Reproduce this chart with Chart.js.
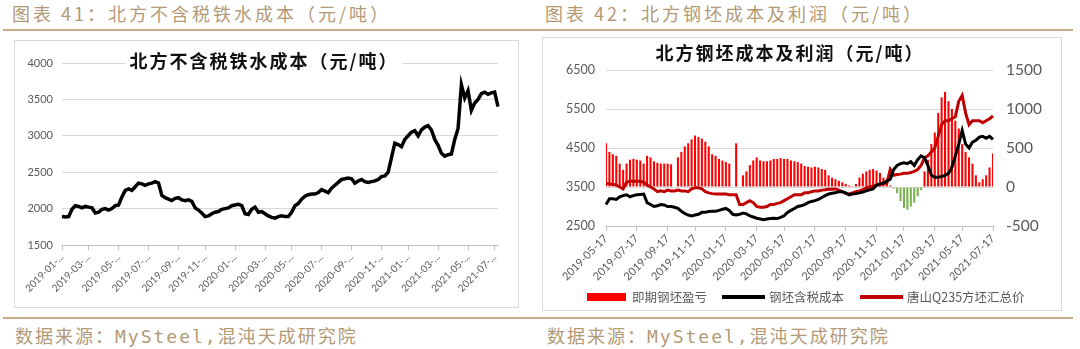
<!DOCTYPE html>
<html lang="zh-CN">
<head>
<meta charset="utf-8">
<script src="https://cdn.jsdelivr.net/npm/chart.js"></script>
<style>
  body { margin: 0; width: 1080px; height: 349px; background: #fff; position: relative; overflow: hidden;
         font-family: "Noto Sans CJK SC", sans-serif; }
  .hdr { position: absolute; top: 0; font-size: 18px; letter-spacing: 3px; color: #b39a76; line-height: 26px; white-space: nowrap; }
  .rule { position: absolute; left: 3px; width: 1070px; border-top: 2px solid #c9ad85; }
  .box { position: absolute; box-sizing: border-box; border: 1px solid #d9d9d9; background: #fff; }
  .box canvas { position: absolute; left: 0; top: 0; }
  .title { position: absolute; background: #fff; font-weight: bold; font-size: 18px; letter-spacing: 2px; color: #111;
           transform: translate(-50%, -50%); white-space: nowrap; line-height: 22px; padding: 0 4px; }
  .src { position: absolute; top: 322px; font-size: 18px; letter-spacing: 2px; color: #b39a76; white-space: nowrap; }
  .src .m { font-family: "DejaVu Sans Mono", monospace; }
  .lg { position: absolute; top: 250px; font-size: 12.5px; color: #595959; white-space: nowrap; line-height: 18px; }
  .sw { position: absolute; }
</style>
</head>
<body>

<div class="hdr" style="left:12px">图表 41：北方不含税铁水成本（元/吨）</div>
<div class="hdr" style="left:545px">图表 42：北方钢坯成本及利润（元/吨）</div>
<div class="rule" style="top:29px"></div>

<!-- left panel -->
<div class="box" style="left:14px; top:40px; width:505px; height:268px">
    <canvas id="leftChart" width="503" height="266"></canvas>
    <div class="title" style="left:249px; top:19px">北方不含税铁水成本（元/吨）</div>
</div>

<!-- right panel -->
<div class="box" style="left:542px; top:37px; width:520px; height:274px">
    <canvas id="rightChart" width="518" height="272"></canvas>
    <div class="title" style="left:247px; top:14px">北方钢坯成本及利润（元/吨）</div>
    <div class="sw" style="left:44px; top:255px; width:39px; height:8px; background:#ff0000"></div>
    <div class="lg" style="left:89px">即期钢坯盈亏</div>
    <div class="sw" style="left:179px; top:257px; width:43px; height:4px; background:#000"></div>
    <div class="lg" style="left:226px">钢坯含税成本</div>
    <div class="sw" style="left:317px; top:257px; width:43px; height:4px; background:#c00000"></div>
    <div class="lg" style="left:364px">唐山Q235方坯汇总价</div>
</div>

<div class="rule" style="top:317px"></div>
<div class="src" style="left:15px">数据来源：<span class="m">MySteel,</span>混沌天成研究院</div>
<div class="src" style="left:547px">数据来源：<span class="m">MySteel,</span>混沌天成研究院</div>

<script>
    // ---- data: left chart (weekly, from 2019-01-04) ----
    const leftStart = '2019-01-04';
    const leftCost = [
        1890, 1885, 1890, 1990, 2040, 2030, 2010, 2030, 2020, 2010,
        1940, 1950, 1990, 2000, 1980, 2000, 2040, 2050, 2160, 2250,
        2270, 2250, 2300, 2350, 2340, 2320, 2340, 2350, 2370, 2350,
        2180, 2150, 2130, 2110, 2140, 2150, 2120, 2110, 2120, 2100,
        2010, 1980, 1940, 1890, 1900, 1930, 1950, 1960, 1990, 2000,
        2010, 2040, 2050, 2060, 2040, 1930, 1920, 1990, 2020, 1950,
        1960, 1930, 1900, 1880, 1870, 1890, 1900, 1890, 1890, 1950,
        2040, 2070, 2130, 2170, 2190, 2200, 2200, 2220, 2260, 2240,
        2220, 2280, 2320, 2360, 2400, 2410, 2420, 2410, 2350, 2380,
        2400, 2370, 2360, 2370, 2380, 2400, 2440, 2450, 2500, 2700,
        2900, 2880, 2850, 2950, 3000, 3050, 3070, 3000, 3080, 3120,
        3140, 3080, 2950, 2870, 2760, 2720, 2740, 2750, 2950, 3100,
        3700, 3520, 3620, 3350, 3450, 3500, 3580, 3600, 3570, 3590,
        3600, 3400
    ];
    const leftTickLabels = ['2019-01-...', '2019-03-...', '2019-05-...', '2019-07-...', '2019-09-...', '2019-11-...',
        '2020-01-...', '2020-03-...', '2020-05-...', '2020-07-...', '2020-09-...', '2020-11-...',
        '2021-01-...', '2021-03-...', '2021-05-...', '2021-07-...'];

    // ---- data: right chart (weekly, from 2019-05-17) ----
    const rightStart = '2019-05-17';
    const profit = [
        560, 450, 420, 400, 300, 220, 300, 350, 360, 350,
        340, 300, 400, 380, 330, 310, 300, 300, 300, 290,
        null, 380, 450, 520, 560, 610, 660, 640, 620, 580,
        520, 420, 400, 360, 340, 320, 300, null, 560, null,
        150, 200, 280, 340, 380, 340, 330, 330, 340, 360,
        360, 370, 360, 360, 340, 330, 320, 300, 270, 260,
        250, 260, 250, 230, 220, 150, 120, 100, 80, 60,
        40, 20, 10, 40, 120, 170, 200, 220, 230, 210,
        180, 120, 60, 20, -20, -80, -180, -270, -290, -250,
        -200, -120, -40, 200, 350, 550, 700, 950, 1150, 1220,
        1100, 1000, 850, 750, 550, 450, 380, 300, 150, 60,
        100, 150, 250, 430
    ];
    const billetCost = [
        3050, 3200, 3200, 3180, 3250, 3280, 3300, 3250, 3280, 3300,
        3310, 3320, 3100, 3050, 3000, 3020, 3050, 3040, 3000, 3000,
        2980, 2950, 2880, 2820, 2780, 2760, 2780, 2800, 2850, 2850,
        2870, 2880, 2880, 2900, 2930, 2950, 2900, 2800, 2780, 2800,
        2830, 2810, 2760, 2730, 2700, 2680, 2660, 2680, 2690, 2700,
        2690, 2720, 2760, 2850, 2900, 2950, 3000, 3020, 3050, 3100,
        3130, 3150, 3180, 3230, 3280, 3320, 3340, 3350, 3380, 3380,
        3350, 3300, 3320, 3330, 3350, 3370, 3400, 3430, 3450, 3550,
        3580, 3600, 3650, 3700, 3950, 4050, 4100, 4120, 4100, 4150,
        4050, 4200, 4300, 4250, 4050, 3800, 3750, 3750, 3770, 3800,
        3850, 4000, 4300, 4600, 4950, 4600, 4500, 4650, 4700, 4780,
        4800, 4750, 4800, 4720
    ];
    const billetPrice = [
        3600, 3580, 3570, 3550, 3500, 3450, 3620, 3650, 3650, 3650,
        3650, 3620, 3550, 3500, 3450, 3380, 3400, 3380, 3420, 3400,
        3400, 3420, 3400, 3400, 3380, 3450, 3480, 3480, 3450, 3380,
        3350, 3330, 3320, 3320, 3320, 3320, 3300, 3300, 3300, 3050,
        3050, 3100, 3150, 3100, 3000, 2980, 2980, 3000, 3050, 3050,
        3080, 3100, 3150, 3200, 3250, 3300, 3300, 3300, 3350, 3350,
        3380, 3400, 3400, 3420, 3430, 3450, 3440, 3450, 3420, 3380,
        3330, 3320, 3350, 3380, 3400, 3430, 3480, 3500, 3520, 3550,
        3560, 3580, 3600, 3950, 3800, 3820, 3830, 3850, 3850, 3870,
        3900, 3950, 4050, 4250, 4300, 4400, 4500, 4800, 5100, 5200,
        5200, 5250, 5300, 5700, 5850, 5400, 5100, 5200, 5200, 5200,
        5150, 5200, 5250, 5320
    ];
    const rightTickLabels = ['2019-05-17', '2019-07-17', '2019-09-17', '2019-11-17', '2020-01-17', '2020-03-17',
        '2020-05-17', '2020-07-17', '2020-09-17', '2020-11-17', '2021-01-17', '2021-03-17', '2021-05-17', '2021-07-17'];

    // weekly date strings
    function weeklyDates(start, n) {
        const t0 = Date.parse(start + 'T00:00:00Z');
        return Array.from({ length: n }, (_, i) => new Date(t0 + i * 7 * 864e5).toISOString().slice(0, 10));
    }

    const leftDates = weeklyDates(leftStart, leftCost.length);
    const rightDates = weeklyDates(rightStart, profit.length);

    // which category index carries each tick label
    const leftTicks = {};
    leftTickLabels.forEach(lbl => {
        const idx = leftDates.findIndex(d => d.startsWith(lbl.slice(0, 7)));
        if (idx >= 0) leftTicks[idx] = lbl;
    });
    const rightTicks = {};
    rightTickLabels.forEach(lbl => {
        const t = Date.parse(lbl + 'T00:00:00Z');
        let best = 0;
        rightDates.forEach((d, i) => {
            if (Math.abs(Date.parse(d + 'T00:00:00Z') - t) < Math.abs(Date.parse(rightDates[best] + 'T00:00:00Z') - t)) best = i;
        });
        rightTicks[best] = lbl;
    });

    Chart.defaults.font.family = "Lato, 'Noto Sans CJK SC', sans-serif";
    Chart.defaults.color = '#595959';
    Chart.defaults.animation = false;

    const plain = v => String(v);  // no thousands separator

    function xAxis(tickMap, height, fontSize) {
        return {
            type: 'category',
            offset: false,
            afterFit: s => { s.height = height; },
            afterBuildTicks: s => { s.ticks = Object.keys(tickMap).map(k => ({ value: Number(k) })); },
            ticks: {
                autoSkip: false, minRotation: 45, maxRotation: 45, padding: 1,
                font: { size: fontSize },
                callback: v => tickMap[v] || ''
            },
            grid: { drawOnChartArea: false, offset: false, tickLength: 5, color: '#bfbfbf' },
            border: { color: '#bfbfbf' }
        };
    }

    new Chart(document.getElementById('leftChart'), {
        type: 'line',
        data: {
            labels: leftDates,
            datasets: [{
                data: leftCost,
                borderColor: '#000',
                borderWidth: 3.5,
                pointRadius: 0,
                tension: 0
            }]
        },
        options: {
            responsive: false,
            layout: { padding: { top: 22, right: 20, left: 0, bottom: 0 } },
            plugins: { legend: { display: false }, tooltip: { enabled: false } },
            scales: {
                x: xAxis(leftTicks, 62, 10),
                y: {
                    min: 1500, max: 4000,
                    afterFit: s => { s.width = 47; },
                    ticks: { stepSize: 500, padding: 9, font: { size: 11 }, callback: plain },
                    grid: { color: '#d9d9d9', drawTicks: false },
                    border: { display: false }
                }
            }
        }
    });

    new Chart(document.getElementById('rightChart'), {
        type: 'bar',
        data: {
            labels: rightDates,
            datasets: [
                {
                    type: 'line',
                    label: '钢坯含税成本',
                    data: billetCost,
                    yAxisID: 'y',
                    borderColor: '#000',
                    borderWidth: 3,
                    pointRadius: 0,
                    order: 1
                },
                {
                    type: 'line',
                    label: '唐山Q235方坯汇总价',
                    data: billetPrice,
                    yAxisID: 'y',
                    borderColor: '#c00000',
                    borderWidth: 3,
                    pointRadius: 0,
                    order: 2
                },
                {
                    type: 'bar',
                    label: '即期钢坯盈亏',
                    data: profit,
                    yAxisID: 'y1',
                    backgroundColor: c => (c.raw < 0 ? '#79b24c' : '#ff0000'),
                    barPercentage: 0.6,
                    categoryPercentage: 1,
                    order: 3
                }
            ]
        },
        options: {
            responsive: false,
            layout: { padding: { top: 32, right: 8, left: 0, bottom: 0 } },
            plugins: { legend: { display: false }, tooltip: { enabled: false } },
            scales: {
                x: xAxis(rightTicks, 84, 11),
                y: {
                    position: 'left',
                    min: 2500, max: 6500,
                    afterFit: s => { s.width = 63; },
                    ticks: { stepSize: 1000, padding: 11, font: { size: 12.5 }, callback: plain },
                    grid: { color: '#d9d9d9', drawTicks: false },
                    border: { display: false }
                },
                y1: {
                    position: 'right',
                    min: -500, max: 1500,
                    afterFit: s => { s.width = 60; },
                    ticks: { stepSize: 500, padding: 13, font: { size: 15.5 }, callback: plain },
                    grid: { drawOnChartArea: false, drawTicks: false },
                    border: { display: false }
                }
            }
        }
    });
</script>
</body>
</html>
